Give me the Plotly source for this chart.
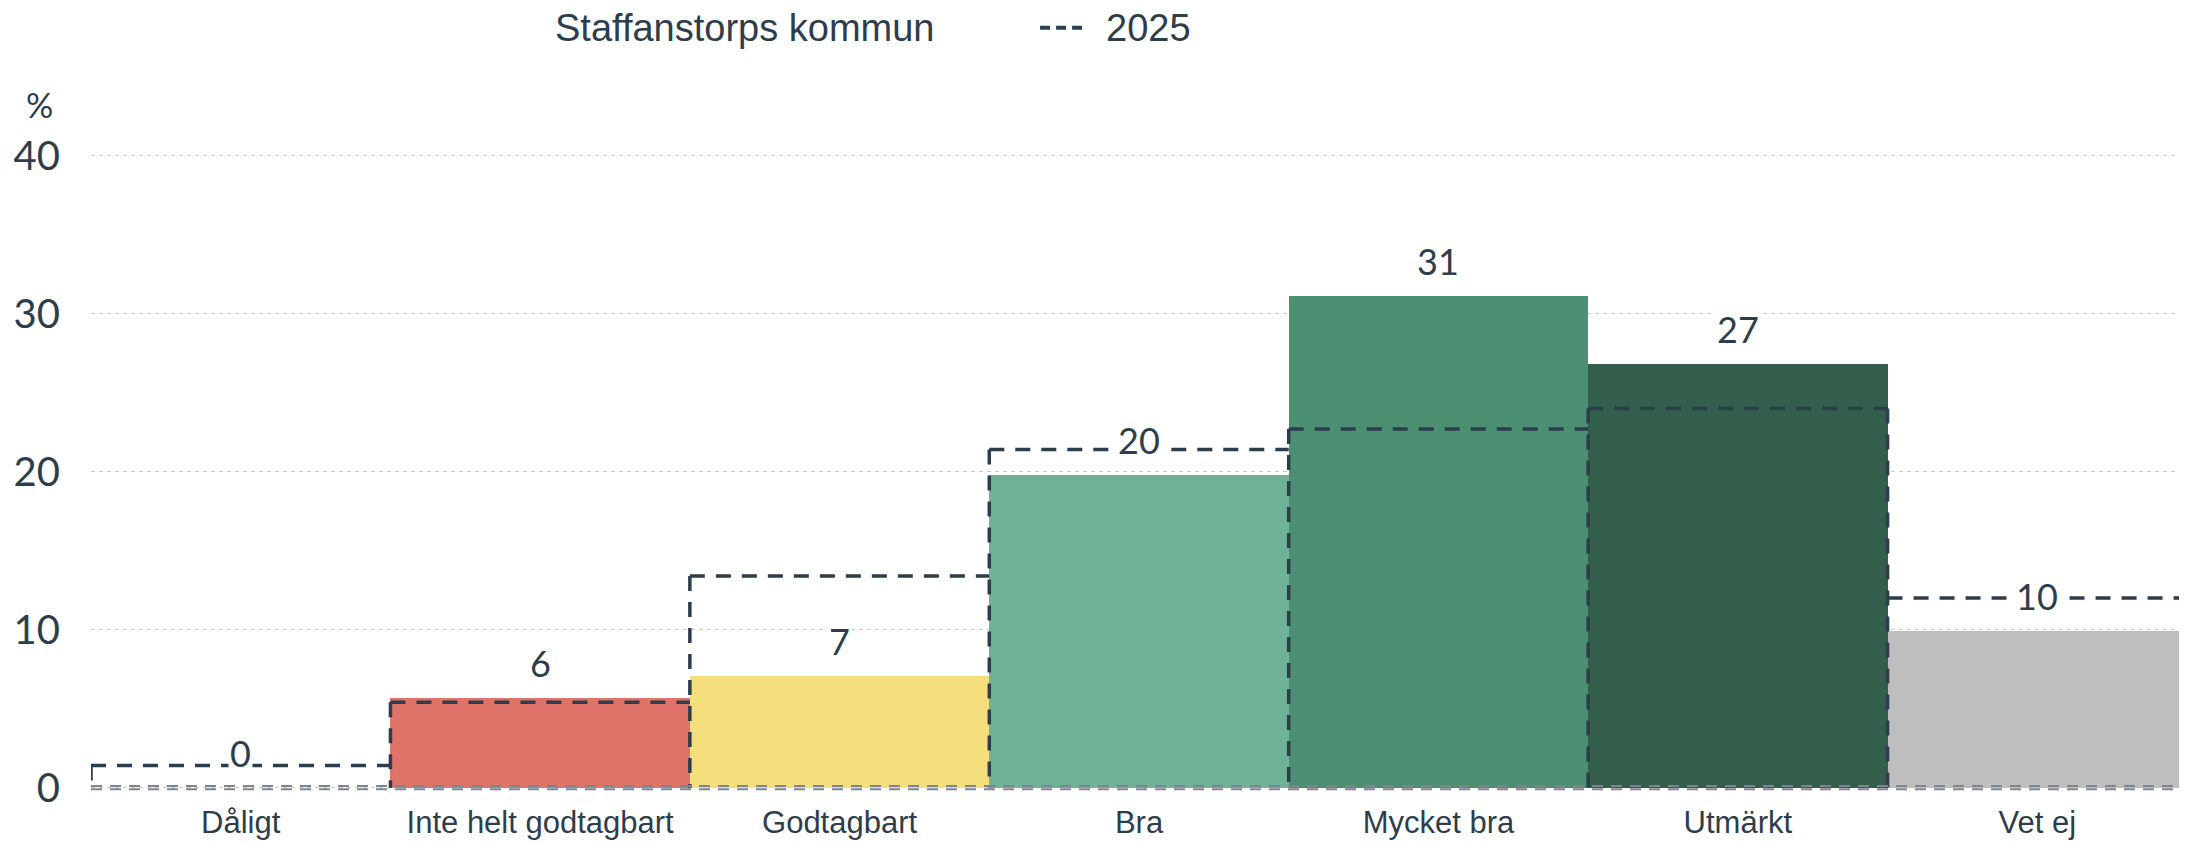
import plotly.graph_objects as go

categories = ["Dåligt", "Inte helt godtagbart", "Godtagbart", "Bra", "Mycket bra", "Utmärkt", "Vet ej"]
values_kommun = [0.0, 5.7, 7.05, 19.8, 31.1, 26.8, 9.9]
values_2025 = [1.4, 5.4, 13.4, 21.4, 22.7, 24.0, 12.0]
y_ticks = [0, 10, 20, 30, 40]
series_name = "Staffanstorps kommun"
line_name = "2025"

bar_colors = ["#e07369", "#e07369", "#f5df7c", "#6fb297", "#4d8f72", "#335e4c", "#bebebe"]
TEXT = "#2e3d4c"
LINE = "#2e3d4c"

n = len(categories)
xs = list(range(n))

fig = go.Figure()
fig.add_trace(go.Bar(
    x=xs, y=values_kommun, width=1, marker=dict(color=bar_colors, line=dict(width=0)),
    name=series_name, showlegend=False, hoverinfo="skip",
))

# 2025 outline: horizontal tops plus verticals at each boundary
lx, ly = [], []
for i, v in enumerate(values_2025):
    lx += [i - 0.5, i + 0.5, None]
    ly += [v, v, None]
for b in range(n + 1):
    left = values_2025[b - 1] if b > 0 else 0
    right = values_2025[b] if b < n else 0
    lx += [b - 0.5, b - 0.5, None]
    ly += [max(left, right), 0, None]
fig.add_trace(go.Scatter(
    x=lx, y=ly, mode="lines", line=dict(color=LINE, width=3.5, dash="15px,11px"),
    connectgaps=False, showlegend=False, hoverinfo="skip", name=line_name,
))

# zero baseline (double dashed grey)
for off in (0.1, -0.1):
    fig.add_shape(type="line", xref="x", yref="y", x0=-0.5, x1=n - 0.5, y0=off, y1=off,
                  line=dict(color="#7d858f", width=2, dash="11px,8px"), layer="above")

annotations = []
for i, v in enumerate(values_kommun):
    annotations.append(dict(
        x=i, y=v, xref="x", yref="y", text=str(int(round(v))), showarrow=False,
        yanchor="bottom", yshift=11, bgcolor="white", borderpad=1,
        font=dict(family="Lato, sans-serif", size=36, color=TEXT),
    ))

annotations.append(dict(x=-0.0248, y=1.072, xref="paper", yref="paper", text="%", showarrow=False,
                        xanchor="center", yanchor="middle",
                        font=dict(family="Lato, sans-serif", size=34, color=TEXT)))
annotations.append(dict(x=0.2205, y=1.1918, xref="paper", yref="paper", text=series_name, showarrow=False,
                        xanchor="left", yanchor="middle",
                        font=dict(family="Liberation Sans, Arial, sans-serif", size=38, color=TEXT)))
annotations.append(dict(x=0.4835, y=1.1918, xref="paper", yref="paper", text=line_name, showarrow=False,
                        xanchor="left", yanchor="middle",
                        font=dict(family="Liberation Sans, Arial, sans-serif", size=38, color=TEXT)))
fig.add_shape(type="line", xref="paper", yref="paper", x0=0.4528, x1=0.4742, y0=1.1918, y1=1.1918,
              line=dict(color=LINE, width=4, dash="10px,6px"))

# page body keeps an 8px margin, so the figure is 8px smaller to sit flush with the window
fig.update_layout(
    width=2179, height=834,
    margin=dict(l=83, r=0, t=143, b=48),
    paper_bgcolor="white", plot_bgcolor="white",
    bargap=0,
    annotations=annotations,
    xaxis=dict(range=[-0.5, n - 0.5], tickmode="array", tickvals=xs, ticktext=categories,
               showgrid=False, zeroline=False, showline=False, automargin=False,
               ticks="outside", ticklen=1, tickcolor="rgba(0,0,0,0)",
               tickfont=dict(family="Liberation Sans, Arial, sans-serif", size=31, color=TEXT)),
    yaxis=dict(range=[-0.4, 40.3], tickmode="array", tickvals=y_ticks,
               showgrid=True, gridcolor="#cacaca", griddash="4px,4px", gridwidth=1,
               zeroline=False, showline=False, automargin=False,
               ticks="outside", ticklen=22, tickcolor="rgba(0,0,0,0)",
               tickfont=dict(family="Lato, sans-serif", size=40, color=TEXT)),
    showlegend=False,
)

fig.write_html("out.html")
